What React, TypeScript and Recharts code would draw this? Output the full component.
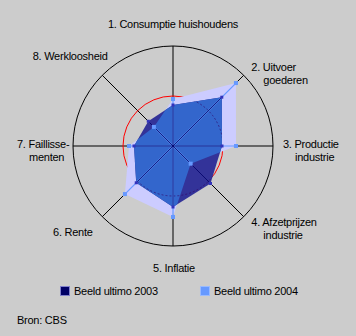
import { RadarChart, Radar, PolarGrid, PolarAngleAxis, PolarRadiusAxis } from "recharts";

const axes = ["1", "2", "3", "4", "5", "6", "7", "8"];
const axisLabels = [
  ["1. Consumptie huishoudens"],
  ["2. Uitvoer", "goederen"],
  ["3. Productie", "industrie"],
  ["4. Afzetprijzen", "industrie"],
  ["5. Inflatie"],
  ["6. Rente"],
  ["7. Faillisse-", "menten"],
  ["8. Werkloosheid"],
];
const values2003 = [41, 69, 49, 53, 61, 52, 39, 35];
const values2004 = [47, 89, 63, 25, 71, 68, 44, 27];
const seriesNames = ["Beeld ultimo 2003", "Beeld ultimo 2004"];

const data = axes.map((a, i) => ({ axis: a, v2003: values2003[i], v2004: values2004[i] }));

const BG = "#cccccc";
const FONT = "'Liberation Sans', Arial, sans-serif";

// label placement relative to the tick point: anchor, dx, dy
const labelPos: [string, number, number][] = [
  ["middle", 0, -14],
  ["start", 2, -3],
  ["start", 2, -2],
  ["start", 2, 0],
  ["middle", 1, 14],
  ["end", -4, 10],
  ["start", -48, -2],
  ["end", 11, -14],
];

const AngleTick = (props: any) => {
  const { x, y, payload, index } = props;
  const i = index ?? axes.indexOf(payload.value);
  const [anchor, dx, dy] = labelPos[i];
  const lines = axisLabels[i];
  return (
    <g>
      {lines.map((t, k) => (
        <text
          key={k}
          x={x + dx + (k > 0 ? 12 : 0)}
          y={y + dy + k * 13}
          textAnchor={anchor as any}
          dominantBaseline="central"
          fontSize={11}
          letterSpacing={-0.25}
          fontFamily={FONT}
          fill="#000"
        >
          {t}
        </text>
      ))}
    </g>
  );
};

const ptsStr = (pts: any[]) => pts.map((p) => `${p.x},${p.y}`).join(" ");

const LavenderShape = (props: any) => <polygon points={ptsStr(props.points)} fill="#ccccff" />;

const NavyShape = (props: any) => (
  <g>
    <defs>
      <clipPath id="clip03">
        <polygon points={ptsStr(props.points)} />
      </clipPath>
    </defs>
    <polygon points={ptsStr(props.points)} fill="#333399" />
  </g>
);

const OverlapShape = (props: any) => {
  const pts = props.points;
  const cx = pts[0].cx ?? 173;
  const cy = pts[0].cy ?? 146;
  const r50 = (pts[0].radius / pts[0].value) * 50;
  return (
    <g>
      <polygon points={ptsStr(pts)} fill="#3366cc" clipPath="url(#clip03)" />
      <circle cx={cx} cy={cy} r={r50} fill="none" stroke="#330066" strokeOpacity={0.6} strokeDasharray="2 2" clipPath="url(#clip03)" />
      {pts.map((p: any, i: number) => (
        <line key={i} x1={cx} y1={cy} x2={p.x} y2={p.y} stroke="#6699ff" strokeWidth={1.2} />
      ))}
    </g>
  );
};

const Spokes2003 = (props: any) => {
  const pts = props.points;
  const cx = pts[0].cx ?? 173;
  const cy = pts[0].cy ?? 146;
  return (
    <g>
      {pts.map((p: any, i: number) => (
        <line key={i} x1={cx} y1={cy} x2={p.x} y2={p.y} stroke="#000066" strokeWidth={1} strokeOpacity={0.8} />
      ))}
      {pts.map((p: any, i: number) => (
        <rect key={"m" + i} x={p.x - 1.5} y={p.y - 1.5} width={3} height={3} fill="#3333bb" />
      ))}
    </g>
  );
};

const Markers2004 = (props: any) => (
  <g>
    {props.points.map((p: any, i: number) => (
      <rect key={i} x={p.x - 2} y={p.y - 2} width={4} height={4} fill="#6699ff" />
    ))}
  </g>
);

export default function App() {
  return (
    <div style={{ position: "relative", width: 356, height: 336, background: BG, fontFamily: FONT }}>
      <style>{`body{margin:0}`}</style>
      <RadarChart width={356} height={336} cx={173} cy={146} outerRadius={100} data={data} margin={{ top: 0, right: 0, bottom: 0, left: 0 }}>
        <PolarGrid gridType="circle" polarRadius={[100]} stroke="#000" strokeOpacity={1} />
        <PolarGrid gridType="circle" polarRadius={[50]} radialLines={false} stroke="#ff0000" strokeOpacity={1} />
        <PolarAngleAxis dataKey="axis" tick={<AngleTick />} tickLine={false} axisLine={false} />
        <PolarRadiusAxis domain={[0, 100]} tick={false} axisLine={false} />
        <Radar dataKey="v2004" shape={LavenderShape} isAnimationActive={false} />
        <Radar dataKey="v2003" shape={NavyShape} isAnimationActive={false} />
        <Radar dataKey="v2004" shape={OverlapShape} isAnimationActive={false} />
        <Radar dataKey="v2003" shape={Spokes2003} isAnimationActive={false} />
        <Radar dataKey="v2004" shape={Markers2004} isAnimationActive={false} />
      </RadarChart>
      {seriesNames.map((name, i) => (
        <div
          key={name}
          style={{
            position: "absolute",
            left: i === 0 ? 60 : 200,
            top: 286,
            height: 10,
            display: "flex",
            alignItems: "center",
            fontSize: 11,
            letterSpacing: -0.25,
            whiteSpace: "nowrap",
          }}
        >
          <span
            style={{
              display: "inline-block",
              width: 8,
              height: 8,
              background: i === 0 ? "#000066" : "#6699ff",
              border: i === 0 ? "1px solid #8080cc" : "1px solid #99bbff",
              marginRight: 4,
            }}
          />
          {name}
        </div>
      ))}
      <div style={{ position: "absolute", left: 17, top: 314, fontSize: 11, letterSpacing: -0.25 }}>Bron: CBS</div>
    </div>
  );
}
